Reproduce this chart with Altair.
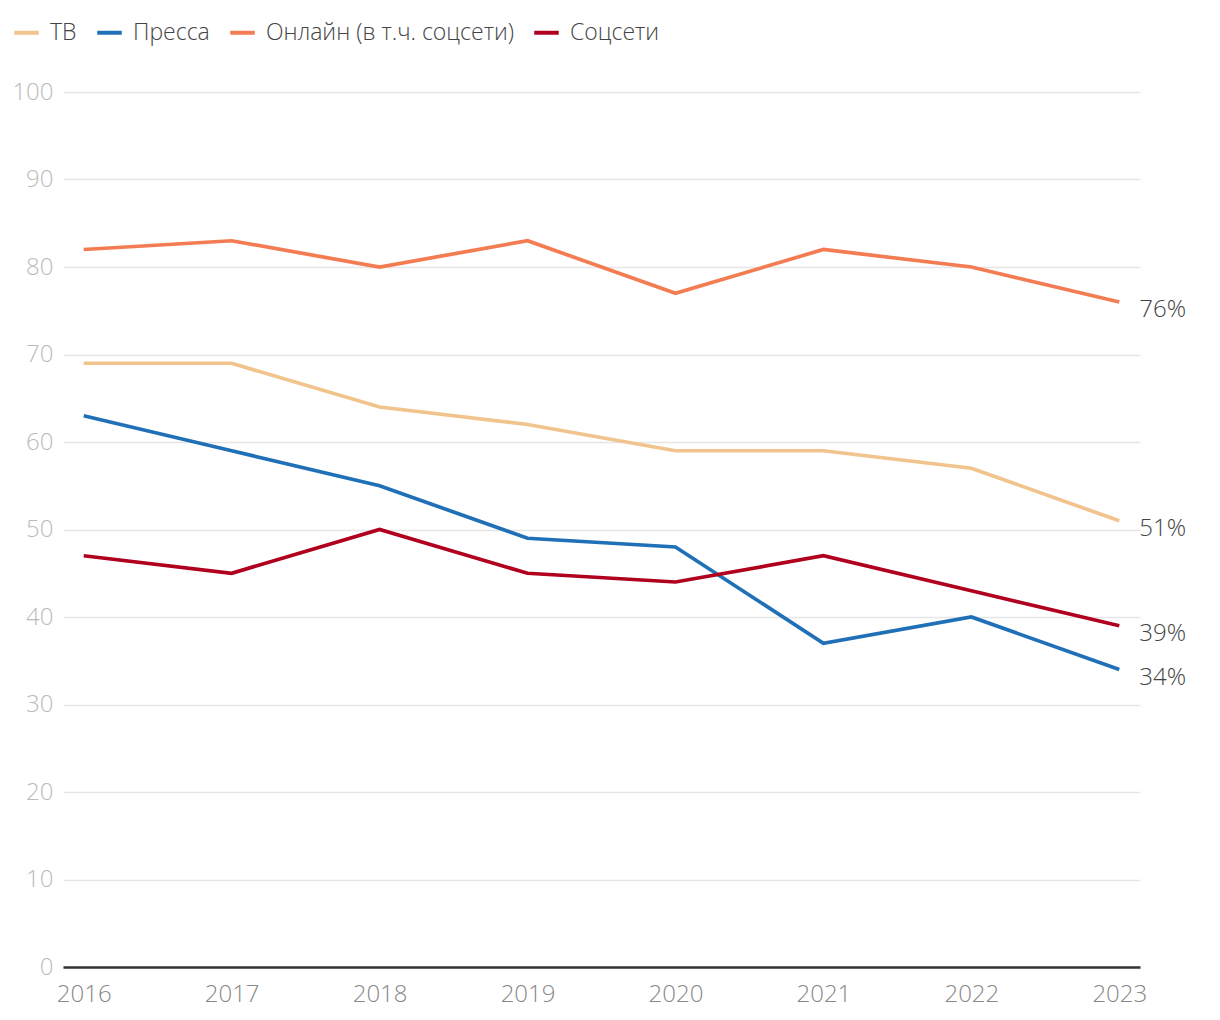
import altair as alt
import pandas as pd

years = ["2016", "2017", "2018", "2019", "2020", "2021", "2022", "2023"]
tv = [69, 69, 64, 62, 59, 59, 57, 51]
press = [63, 59, 55, 49, 48, 37, 40, 34]
online = [82, 83, 80, 83, 77, 82, 80, 76]
social = [47, 45, 50, 45, 44, 47, 43, 39]

series_names = ["ТВ", "Пресса", "Онлайн (в т.ч. соцсети)", "Соцсети"]
series_values = [tv, press, online, social]
colors = ["#f0c48c", "#2070b8", "#f47c53", "#b0001e"]

rows = []
for name, vals in zip(series_names, series_values):
    for y, v in zip(years, vals):
        rows.append({"year": y, "value": v, "series": name})
df = pd.DataFrame(rows)

last = df[df["year"] == years[-1]].copy()
last["label"] = last["value"].astype(str) + "%"

FONT = "Open Sans"
FS = 24

x = alt.X("year:O", scale=alt.Scale(type="point", padding=0.14),
          axis=alt.Axis(title=None, labelAngle=0, labelFontSize=FS, labelColor="#888888",
                        labelFont=FONT, labelFontWeight=300, ticks=False, domain=True,
                        domainColor="#333333", domainWidth=2.5, labelPadding=15, grid=False))
y = alt.Y("value:Q", scale=alt.Scale(domain=[0, 100], nice=False),
          axis=alt.Axis(title=None, values=list(range(0, 101, 10)), labelFontSize=FS,
                        labelColor="#bbbbbb", labelFont=FONT, labelFontWeight=300,
                        ticks=False, domain=False, labelPadding=10,
                        gridColor="#e6e6e6", gridWidth=1.5))

color = alt.Color("series:N", scale=alt.Scale(domain=series_names, range=colors),
                  legend=alt.Legend(title=None, orient="none", direction="horizontal",
                                    legendX=-51, legendY=-74,
                                    symbolType="stroke", symbolStrokeWidth=4,
                                    symbolSize=600, labelFontSize=23, labelFont=FONT,
                                    labelFontWeight=300, labelColor="#444444",
                                    labelLimit=400,
                                    columnPadding=12, symbolOffset=0, labelOffset=9))

lines = alt.Chart(df).mark_line(strokeWidth=3.7).encode(x=x, y=y, color=color,
                                                          order=alt.Order("year:O"))

labels = alt.Chart(last).mark_text(align="left", baseline="middle", dx=20, dy=8,
                                   fontSize=FS, font=FONT, fontWeight=300,
                                   color="#444444").encode(
    x=alt.X("year:O"), y=alt.Y("value:Q"), text="label:N")

chart = alt.layer(lines, labels).properties(
    width=1077, height=875,
    autosize=alt.AutoSizeParams(type="none"),
    padding={"left": 55, "top": 84, "right": 70, "bottom": 60},
).configure_view(stroke=None)

chart.save("out.html", embed_options={"renderer": "svg", "actions": False})
